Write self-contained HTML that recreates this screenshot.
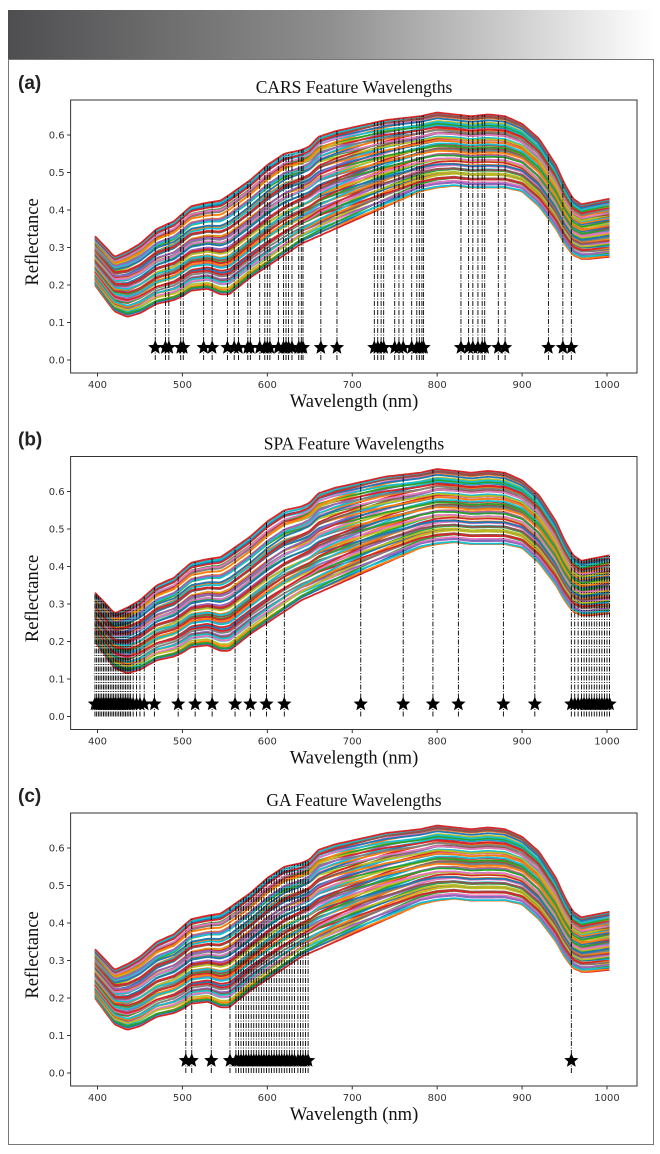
<!DOCTYPE html>
<html><head><meta charset="utf-8"><style>
html,body{margin:0;padding:0;background:#fff;}
svg{display:block;}
.tick{font-family:"DejaVu Sans","Liberation Sans",sans-serif;font-size:10px;fill:#333;}
.serif{font-family:"Liberation Serif",serif;fill:#111;}
.plab{font-family:"Liberation Sans",sans-serif;font-weight:bold;font-size:19px;fill:#222;}
</style></head><body>
<svg id="root" width="660" height="1154" viewBox="0 0 660 1154" xmlns="http://www.w3.org/2000/svg">
<defs><linearGradient id="hg" x1="0" x2="1" y1="0" y2="0"><stop offset="0" stop-color="#4e4e50"/><stop offset="0.5" stop-color="#8f8f8f"/><stop offset="1" stop-color="#ffffff"/></linearGradient></defs>
<rect x="8" y="10" width="646" height="50" fill="url(#hg)"/>
<rect x="8.5" y="59.5" width="645" height="1085" fill="#fff" stroke="#777" stroke-width="1"/>
</svg>
<script>
// Envelope of spectra
const wavelengths=[397,410,420,435,450,470,490,500,510,530,545,555,580,600,620,640,650,660,680,700,720,740,760,780,800,820,840,860,880,900,920,940,950,960,970,980,1003];
const topEnvelope=[0.33,0.30,0.275,0.29,0.31,0.35,0.37,0.39,0.41,0.42,0.425,0.44,0.48,0.52,0.55,0.56,0.57,0.595,0.61,0.62,0.63,0.64,0.645,0.65,0.66,0.655,0.65,0.655,0.65,0.63,0.59,0.52,0.47,0.43,0.415,0.42,0.43];
const bottomEnvelope=[0.20,0.16,0.13,0.115,0.125,0.15,0.16,0.17,0.185,0.19,0.175,0.175,0.22,0.25,0.28,0.31,0.32,0.33,0.35,0.37,0.39,0.41,0.43,0.45,0.46,0.465,0.46,0.46,0.46,0.45,0.41,0.35,0.31,0.28,0.27,0.27,0.275];
const curveFractions=[0,0.02,0.04,0.055,0.07,0.09,0.1,0.12,0.135,0.15,0.16,0.18,0.19,0.21,0.22,0.24,0.25,0.27,0.28,0.3,0.31,0.33,0.34,0.36,0.37,0.39,0.4,0.42,0.43,0.45,0.46,0.48,0.49,0.51,0.52,0.54,0.55,0.57,0.58,0.6,0.61,0.63,0.64,0.66,0.67,0.69,0.7,0.72,0.73,0.75,0.76,0.78,0.79,0.81,0.82,0.84,0.85,0.87,0.88,0.9,0.91,0.93,0.94,0.96,0.97,0.985,1];
const curveTilts=[0,0.03,-0.02,0.05,-0.04,0.02,0.06,-0.05,0.01,0.04,-0.03,0.07,-0.06,0.02,-0.01,0.05,-0.04,0.03,-0.07,0.06,0,-0.05,0.04,-0.02,0.07,-0.06,0.03,-0.03,0.05,-0.07,0.02,0.06,-0.04,0.01,-0.06,0.04,0.07,-0.02,0.03,-0.05,0.06,-0.03,0.02,-0.07,0.05,0.01,-0.04,0.06,-0.06,0.03,0.04,-0.05,0.02,-0.03,0.06,-0.04,0.05,-0.02,0.03,-0.05,0.04,-0.03,0.02,-0.02,0.01,-0.01,0];
const colorOrder=[3,1,0,9,2,6,4,8,5,7,1,3,9,0,2,8,6,4,3,5,1,9,7,2,0,3,8,1,6,9,4,2,5,0,3,7,1,9,8,6,2,3,0,4,1,9,5,8,3,2,6,0,1,9,7,4,3,8,2,1,9,6,0,3,5,9,3];
const seriesColors=["#1f77b4","#ff7f0e","#2ca02c","#d62728","#9467bd","#8c564b","#e377c2","#7f7f7f","#bcbd22","#17becf"];
const xTicks=[400,500,600,700,800,900,1000];
const yTicks=[0.0,0.1,0.2,0.3,0.4,0.5,0.6];
const panelTitles=["CARS Feature Wavelengths","SPA Feature Wavelengths","GA Feature Wavelengths"];
const panelLetters=["(a)","(b)","(c)"];
const carsFeatures=[468,480,484,498,501,525,535,553,561,566,577,580,591,597,600,603,613,619,622,625,629,637,640,642,663,682,726,730,734,737,750,755,760,770,776,779,782,784,828,837,842,848,853,856,872,880,931,948,958];
const spaFeatures=[397,399,401,403,405,407,409,411,413,415,417,419,421,423,425,427,429,431,433,435,437,439,442,446,450,455,467,495,515,535,562,580,599,620,710,760,795,825,878,915,958,962,966,970,973,976,979,982,985,988,991,994,997,1000,1003];
const gaFeatures=[504,511,534,556,563,566,569,572,575,578,581,584,587,590,593,596,599,602,605,608,611,614,617,620,623,626,629,632,636,639,642,645,648,958];
const featureSets=[carsFeatures,spaFeatures,gaFeatures];
const markerLevel=0.033;

const NS="http://www.w3.org/2000/svg";
const root=document.getElementById('root');
const panelTops=[100,456.5,813];
const plotL=70.6,plotR=637,plotH=273;
function xs(w){return 97.5+(w-400)*(509.5/600);}
function ysF(top){return v=>top+260-v*375;}
function interp(arr,w){
  if(w<=wavelengths[0])return arr[0];
  for(let i=1;i<wavelengths.length;i++){if(w<=wavelengths[i]){const t=(w-wavelengths[i-1])/(wavelengths[i]-wavelengths[i-1]);return arr[i-1]+t*(arr[i]-arr[i-1]);}}
  return arr[arr.length-1];
}
function mk(tag,attrs,parent){const e=document.createElementNS(NS,tag);for(const k in attrs)e.setAttribute(k,attrs[k]);(parent||root).appendChild(e);return e;}
function starPath(cx,cy,r){let d="";for(let i=0;i<10;i++){const rr=i%2?r*0.45:r;const a=-Math.PI/2+i*Math.PI/5;d+=(i?"L":"M")+(cx+rr*Math.cos(a)).toFixed(2)+","+(cy+rr*Math.sin(a)).toFixed(2);}return d+"Z";}

panelTops.forEach((top,p)=>{
  const ys=ysF(top);
  const g=mk('g',{});
  
  
  const lab=mk('text',{x:18,y:top-11,class:'plab'},g);lab.textContent=panelLetters[p];
  
  
  const tt=mk('text',{x:354,y:top-7,class:'serif','font-size':17.5,'text-anchor':'middle'},g);tt.textContent=panelTitles[p];
  
  
  const cg=mk('g',{fill:'none','stroke-width':1.8},g);
  
  
  curveFractions.forEach((f,i)=>{
    let pts=[];
    for(let w=397;w<=1003;w+=3){
      const tilt=curveTilts[i]*Math.sin((w-397)/606*Math.PI*2);
      const ff=Math.max(0,Math.min(1,f+tilt));
      const v=interp(bottomEnvelope,w)+ff*(interp(topEnvelope,w)-interp(bottomEnvelope,w));
      pts.push(xs(w).toFixed(1)+","+ys(v).toFixed(1));}
    const pl=mk('polyline',{points:pts.join(" "),stroke:seriesColors[colorOrder[i]]},cg);
    
    
  });
  const fg=mk('g',{},g);
  
  
  featureSets[p].forEach(w=>{
    const ln=mk('line',{x1:xs(w),x2:xs(w),y1:ys(0),y2:ys(interp(topEnvelope,w)),stroke:'#000','stroke-width':0.9,'stroke-dasharray':'5,1.5,1,1.5'},fg);
    
    
  });
  featureSets[p].forEach(w=>{
    const st=mk('path',{d:starPath(xs(w),ys(markerLevel),7.5),fill:'#000'},fg);
    
    
  });
  const fr=mk('rect',{x:plotL,y:top,width:plotR-plotL,height:plotH,fill:'none',stroke:'#333','stroke-width':1},g);
  
  
  xTicks.forEach(t=>{
    mk('line',{x1:xs(t),x2:xs(t),y1:top+plotH,y2:top+plotH+3.5,stroke:'#333'},g);
    const tx=mk('text',{x:xs(t),y:top+plotH+15,class:'tick','text-anchor':'middle'},g);tx.textContent=t;
    
    
  });
  yTicks.forEach(t=>{
    mk('line',{x1:plotL-3.5,x2:plotL,y1:ys(t),y2:ys(t),stroke:'#333'},g);
    const ty=mk('text',{x:plotL-6,y:ys(t)+3.5,class:'tick','text-anchor':'end'},g);ty.textContent=t.toFixed(1);
    
    
  });
  const xl=mk('text',{x:354,y:top+plotH+34,class:'serif','font-size':18.5,'text-anchor':'middle'},g);xl.textContent="Wavelength (nm)";
  
  
  const yl=mk('text',{x:0,y:0,class:'serif','font-size':18.5,'text-anchor':'middle',transform:'translate(38,'+(top+142)+') rotate(-90)'},g);yl.textContent="Reflectance";
  
  
});
</script>
</body></html>
